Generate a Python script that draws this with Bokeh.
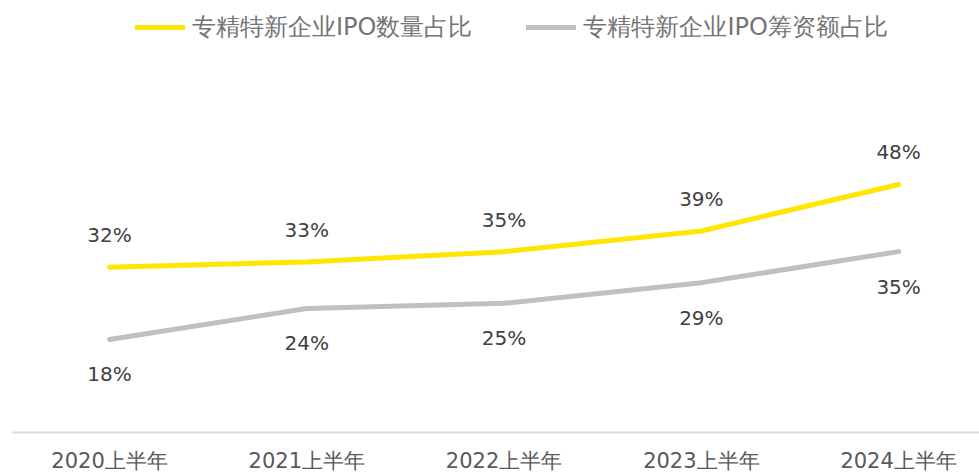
from bokeh.plotting import figure
from bokeh.models import Range1d, FixedTicker, Legend, LegendItem, ColumnDataSource
from bokeh.core.properties import value
from bokeh.embed import file_html
from bokeh.resources import INLINE

categories = ["2020上半年", "2021上半年", "2022上半年", "2023上半年", "2024上半年"]
count_share = [32, 33, 35, 39, 48]
fund_share = [18, 24, 25, 29, 35]
series_names = ["专精特新企业IPO数量占比", "专精特新企业IPO筹资额占比"]

YELLOW = "#FFE600"
GREY = "#C0C0C0"
FONT = "DejaVu Sans"

xs = list(range(len(categories)))
src = ColumnDataSource(dict(
    x=xs,
    c=count_share,
    f=fund_share,
    cl=[f"{v}%" for v in count_share],
    fl=[f"{v}%" for v in fund_share],
))

p = figure(width=979, height=475, output_backend="svg", toolbar_location=None,
           x_range=Range1d(-0.492, 4.41), y_range=Range1d(0, 83.6),
           y_axis_location=None, min_border_left=12, min_border_right=0,
           min_border_top=0, min_border_bottom=42)
p.outline_line_color = None
p.grid.visible = False
p.background_fill_color = "white"

r1 = p.line("x", "c", source=src, line_color=YELLOW, line_width=5, line_cap="round", line_join="round")
r2 = p.line("x", "f", source=src, line_color=GREY, line_width=5, line_cap="round", line_join="round")

p.text("x", "c", text="cl", source=src, text_align="center", text_baseline="middle",
       y_offset=-32, text_font=value(FONT), text_font_size="20px", text_color="#404040")
p.text("x", "f", text="fl", source=src, text_align="center", text_baseline="middle",
       y_offset=35, text_font=value(FONT), text_font_size="20px", text_color="#404040")

ax = p.xaxis[0]
ax.ticker = FixedTicker(ticks=xs)
ax.major_label_overrides = {i: c for i, c in zip(xs, categories)}
ax.axis_line_color = "#D9D9D9"
ax.axis_line_width = 2
ax.major_tick_line_color = None
ax.minor_tick_line_color = None
ax.major_tick_out = 0
ax.major_tick_in = 0
ax.major_label_standoff = 16
ax.major_label_text_font = FONT
ax.major_label_text_font_size = "21px"
ax.major_label_text_color = "#595959"

legend = Legend(items=[LegendItem(label=series_names[0], renderers=[r1]),
                       LegendItem(label=series_names[1], renderers=[r2])],
                orientation="horizontal", location=(123, 389),
                padding=0, margin=0, spacing=54, glyph_width=50, glyph_height=24,
                label_height=24, label_standoff=7,
                label_text_font=FONT, label_text_font_size="24px",
                label_text_color="#747474", label_text_baseline="middle",
                border_line_color=None, background_fill_alpha=0)
p.add_layout(legend)

open("out.html", "w").write(file_html(p, INLINE))
